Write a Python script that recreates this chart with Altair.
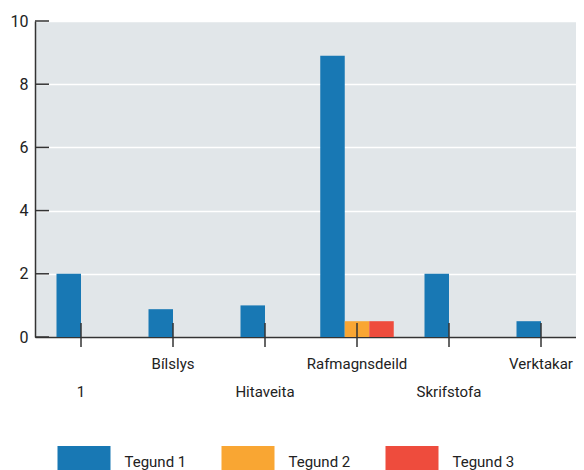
import altair as alt
import pandas as pd

categories = ["1", "Bílslys", "Hitaveita", "Rafmagnsdeild", "Skrifstofa", "Verktakar"]
series = ["Tegund 1", "Tegund 2", "Tegund 3"]
tegund1 = [2, 0.88, 1.0, 8.9, 2, 0.5]
tegund2 = [0, 0, 0, 0.5, 0, 0]
tegund3 = [None, None, None, 0.5, None, None]
colors = ["#1878b4", "#f9a633", "#ee4c3d"]
y_ticks = [0, 2, 4, 6, 8, 10]

W, H = 541, 316
BAR = 24.5
STEP = 92.0
FIRST = 46.0
n_cat = len(categories)
bandwidth = 5 * BAR / 2
pi = 1 - bandwidth / STEP
po = (W / STEP - (n_cat - pi)) / 2
align = (FIRST - bandwidth / 2) / (2 * po * STEP)

rows = []
for ci, cat in enumerate(categories):
    vals = [tegund1[ci], tegund2[ci], tegund3[ci]]
    present = [(s, v) for s, v in zip(series, vals) if v is not None]
    n = len(present)
    for i, (s, v) in enumerate(present):
        rows.append({"cat": cat, "series": s, "value": v, "slot": 2 * i - (n - 1)})
df = pd.DataFrame(rows)
df = df[df["value"] > 0]

lower = categories[0::2]
test = "indexof([" + ",".join("'" + c + "'" for c in lower) + "], datum.value) >= 0"

x_scale = alt.Scale(domain=categories, paddingInner=pi, paddingOuter=po, align=align)
x_axis = alt.Axis(
    title=None, labelAngle=0, ticks=False, tickSize=0,
    domainColor="#333333", domainWidth=1.5,
    labelFontSize=15, labelColor="#222222", labelFont="Roboto",
    labelPadding={"condition": {"test": test, "value": 47}, "value": 19},
    grid=False,
)
y_scale = alt.Scale(domain=[0, 10], nice=False)
y_axis = alt.Axis(
    title=None, values=y_ticks, ticks=False, tickSize=0,
    domainColor="#333333", domainWidth=1.5,
    labelFontSize=16, labelColor="#222222", labelFont="Roboto", labelPadding=7,
    grid=True, gridColor="#ffffff", gridWidth=1.5,
)

bars = alt.Chart(df).mark_bar(width=BAR).encode(
    x=alt.X("cat:N", sort=categories, scale=x_scale, axis=x_axis),
    xOffset=alt.XOffset("slot:O", scale=alt.Scale(domain=[-2, -1, 0, 1, 2], paddingInner=0, paddingOuter=0)),
    y=alt.Y("value:Q", scale=y_scale, axis=y_axis),
    color=alt.Color(
        "series:N",
        scale=alt.Scale(domain=series, range=colors),
        legend=alt.Legend(
            orient="none", legendX=22.5, legendY=414, direction="horizontal",
            title=None, symbolType="M-1,-0.6H1V0.6H-1Z", symbolSize=2809,
            symbolStrokeWidth=0, symbolOpacity=1, labelFontSize=15, labelOffset=14,
            columnPadding=35, padding=0, labelColor="#222222", labelFont="Roboto",
        ),
    ),
)

xticks = alt.Chart(pd.DataFrame({"cat": categories})).mark_rule(
    color="#333333", strokeWidth=1.5
).encode(
    x=alt.X("cat:N", sort=categories, scale=x_scale, axis=x_axis),
    y=alt.value(H - 14),
    y2=alt.value(H + 10),
)

yticks = alt.Chart(pd.DataFrame({"value": y_ticks})).mark_rule(
    color="#333333", strokeWidth=1.5
).encode(
    y=alt.Y("value:Q", scale=y_scale, axis=y_axis),
    x=alt.value(0),
    x2=alt.value(14),
)

chart = alt.layer(bars, xticks, yticks).properties(
    width=W, height=H,
    autosize=alt.AutoSizeParams(type="none"),
    padding={"left": 27, "top": 13, "right": 0, "bottom": 141},
).configure(font="Roboto").configure_view(fill="#e1e6e9", strokeWidth=0)

chart.save("out.html", embed_options={"renderer": "svg", "actions": False})
